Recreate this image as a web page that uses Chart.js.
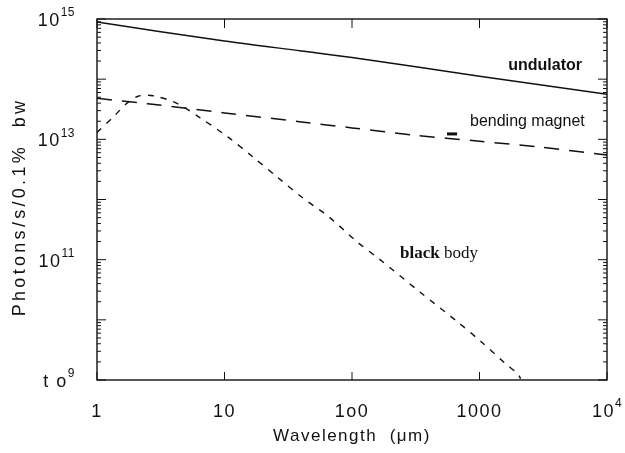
<!DOCTYPE html>
<html>
<head>
<meta charset="utf-8">
<script src="https://cdn.jsdelivr.net/npm/chart.js@4.4.0/dist/chart.umd.min.js"></script>
<style>
  body { margin: 0; background: #fff; }
  #wrap { width: 625px; height: 453px; }
</style>
</head>
<body>
<div id="wrap"><canvas id="chart" width="625" height="453"></canvas></div>
<script>
// comprimento de onda em micrometros, fluxo em photons/s/0.1% bw
const undulatorWl   = [1, 10, 40, 100, 1000, 10000];
const undulatorFlux = [8.9e14, 4.3e14, 2.95e14, 2.3e14, 1.12e14, 5.6e13];

const bendingWl   = [1, 2.5, 10, 40, 100, 300, 1000, 3000, 10000];
const bendingFlux = [4.8e13, 3.9e13, 2.75e13, 1.95e13, 1.55e13, 1.18e13, 9.3e12, 7.4e12, 5.5e12];

const blackBodyWl   = [1, 1.38, 1.72, 2.1, 2.75, 4.2, 6.4, 10.6, 16.7, 26.3, 41, 67, 109, 166, 341, 667, 1047, 1585, 2000, 2100];
const blackBodyFlux = [1.3e13, 2.5e13, 4.0e13, 5.2e13, 5.3e13, 4.0e13, 2.3e13, 1.1e13, 5.1e12, 2.3e12, 1.07e12, 5.0e11, 2.0e11, 1.0e11, 2.9e10, 9.4e9, 4.2e9, 1.9e9, 1.26e9, 1.05e9];

// rotulos dos eixos (base + expoente)
const xTickValues = [1, 10, 100, 1000, 10000];
const xTickBase   = ['1', '10', '1o0', '1000', '10'];
const xTickSup    = ['', '', '', '', '4'];
const yTickValues = [1e9, 1e11, 1e13, 1e15];
const yTickBase   = ['t o', '10', '10', '10'];
const yTickSup    = ['9', '11', '13', '15'];

// textos dentro do grafico (posicao em coordenadas de dados)
const notes = [
  { text: 'undulator', x: 1680, y: 1.66e14, font: 'bold 16px "Liberation Sans", Arial, sans-serif' },
  { text: 'bending magnet', x: 842, y: 1.95e13, font: '16px "Liberation Sans", Arial, sans-serif' },
  { text: 'black', x: 238, y: 1.26e11, font: 'bold 17px "Liberation Serif", "Times New Roman", serif' },
  { text: 'body', x: 238, y: 1.26e11, font: '17px "Liberation Serif", "Times New Roman", serif', after: 'black' }
];

const baseFont = '18px "Liberation Sans", Arial, sans-serif';
const supFont = '12px "Liberation Sans", Arial, sans-serif';

function toPoints(xs, ys) {
  return xs.map((x, i) => ({ x: x, y: ys[i] }));
}

function setSpacing(ctx, v) {
  if ('letterSpacing' in ctx) ctx.letterSpacing = v;
}

// desenha "base" + expoente; align = 'right' ou 'center'
function drawPower(ctx, base, sup, x, y, align) {
  ctx.font = baseFont;
  setSpacing(ctx, '1.5px');
  const wb = ctx.measureText(base).width;
  ctx.font = supFont;
  setSpacing(ctx, '0.5px');
  const ws = sup ? ctx.measureText(sup).width : 0;
  const total = wb + ws;
  let x0 = align === 'right' ? x - total : x - total / 2;
  ctx.textAlign = 'left';
  ctx.textBaseline = 'middle';
  ctx.font = baseFont;
  setSpacing(ctx, '1.5px');
  ctx.fillText(base, x0, y);
  if (sup) {
    ctx.font = supFont;
    setSpacing(ctx, '0.5px');
    ctx.fillText(sup, x0 + wb, y - 8);
  }
  setSpacing(ctx, '0px');
}

const framePlugin = {
  id: 'frame',
  afterDraw(chart) {
    const ctx = chart.ctx;
    const a = chart.chartArea;
    const xs = chart.scales.x;
    const ys = chart.scales.y;
    ctx.save();
    ctx.strokeStyle = '#111';
    ctx.fillStyle = '#111';
    ctx.lineWidth = 1.4;
    ctx.strokeRect(a.left, a.top, a.right - a.left, a.bottom - a.top);

    // ticks para dentro
    ctx.lineWidth = 1;
    ys.ticks.forEach(t => {
      const p = ys.getPixelForValue(t.value);
      const exp = Math.log10(t.value);
      const len = Math.abs(exp - Math.round(exp)) < 1e-9 ? 9 : 4;
      ctx.beginPath();
      ctx.moveTo(a.left, p); ctx.lineTo(a.left + len, p);
      ctx.moveTo(a.right, p); ctx.lineTo(a.right - len, p);
      ctx.stroke();
    });
    xs.ticks.forEach(t => {
      const p = xs.getPixelForValue(t.value);
      ctx.beginPath();
      ctx.moveTo(p, a.bottom); ctx.lineTo(p, a.bottom - 8);
      ctx.moveTo(p, a.top); ctx.lineTo(p, a.top + 9);
      ctx.stroke();
    });

    // rotulos dos ticks
    yTickValues.forEach((v, i) => {
      drawPower(ctx, yTickBase[i], yTickSup[i], a.left - 22, ys.getPixelForValue(v) + 2, 'right');
    });
    xTickValues.forEach((v, i) => {
      drawPower(ctx, xTickBase[i], xTickSup[i], xs.getPixelForValue(v), a.bottom + 32, 'center');
    });

    // titulos dos eixos
    ctx.textAlign = 'center';
    ctx.textBaseline = 'middle';
    ctx.font = '18px "Liberation Sans", Arial, sans-serif';
    setSpacing(ctx, '3.3px');
    ctx.save();
    ctx.translate(20, a.top + 188);
    ctx.rotate(-Math.PI / 2);
    ctx.fillText('Photons/s/0.1%  bw', 0, 0);
    ctx.restore();
    ctx.font = '17px "Liberation Sans", Arial, sans-serif';
    setSpacing(ctx, '1.5px');
    ctx.fillText('Wavelength  (\u03bcm)', (a.left + a.right) / 2, a.bottom + 56);
    setSpacing(ctx, '0px');

    // anotacoes
    ctx.textAlign = 'left';
    const widths = {};
    notes.forEach(n => {
      ctx.font = n.font;
      let px = xs.getPixelForValue(n.x);
      if (n.after) px += widths[n.after] + ctx.measureText(' ').width;
      ctx.fillText(n.text, px, ys.getPixelForValue(n.y));
      widths[n.text] = ctx.measureText(n.text).width;
    });

    // tracinho perto de "bending magnet"
    ctx.lineWidth = 3;
    ctx.beginPath();
    ctx.moveTo(xs.getPixelForValue(556), ys.getPixelForValue(1.23e13));
    ctx.lineTo(xs.getPixelForValue(667), ys.getPixelForValue(1.23e13));
    ctx.stroke();
    ctx.restore();
  }
};

const ctx = document.getElementById('chart').getContext('2d');
const chart = new Chart(ctx, {
  type: 'line',
  data: {
    datasets: [
      {
        label: 'undulator',
        data: toPoints(undulatorWl, undulatorFlux),
        borderColor: '#111',
        borderWidth: 1.5,
        pointRadius: 0,
        tension: 0.3
      },
      {
        label: 'bending magnet',
        data: toPoints(bendingWl, bendingFlux),
        borderColor: '#111',
        borderWidth: 1.5,
        borderDash: [15, 10],
        pointRadius: 0,
        tension: 0.3
      },
      {
        label: 'black body',
        data: toPoints(blackBodyWl, blackBodyFlux),
        borderColor: '#111',
        borderWidth: 1.4,
        borderDash: [6, 7],
        pointRadius: 0,
        tension: 0.3
      }
    ]
  },
  options: {
    responsive: false,
    animation: false,
    layout: { padding: { left: 0, right: 18, top: 19, bottom: 0 } },
    plugins: {
      legend: { display: false },
      tooltip: { enabled: false }
    },
    scales: {
      x: {
        type: 'logarithmic',
        min: 1,
        max: 10000,
        grid: { display: false },
        border: { display: false },
        afterBuildTicks: scale => {
          scale.ticks = xTickValues.map(v => ({ value: v }));
        },
        afterFit: scale => {
          scale.height = 73;
          scale.paddingLeft = 0;
          scale.paddingRight = 0;
        },
        ticks: { display: false }
      },
      y: {
        type: 'logarithmic',
        min: 1e9,
        max: 1e15,
        grid: { display: false },
        border: { display: false },
        afterBuildTicks: scale => {
          const t = [];
          for (let e = 9; e <= 15; e++) {
            for (let k = 1; k <= 9; k++) {
              if (e === 15 && k > 1) break;
              t.push({ value: k * Math.pow(10, e) });
            }
          }
          scale.ticks = t;
        },
        afterFit: scale => {
          scale.width = 97;
          scale.paddingTop = 0;
          scale.paddingBottom = 0;
        },
        ticks: { display: false }
      }
    }
  },
  plugins: [framePlugin]
});
</script>
</body>
</html>
